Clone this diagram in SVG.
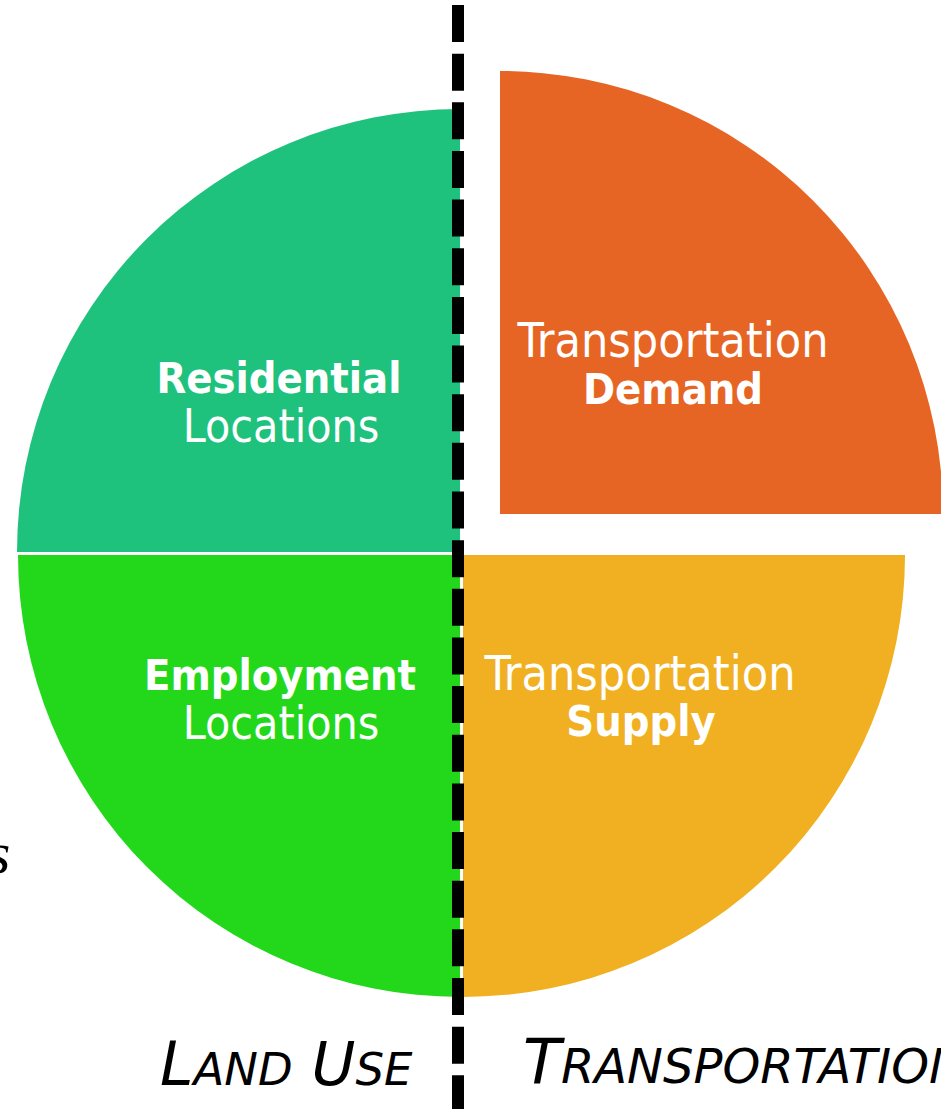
<svg xmlns="http://www.w3.org/2000/svg" width="941" height="1109" viewBox="0 0 941 1109">
<style>
.lbl{font-family:"DejaVu Sans Condensed","DejaVu Sans",sans-serif;fill:#ffffff;font-size:46px;text-anchor:middle}
.t{font-size:48px}
.b{font-weight:bold;font-size:43px}
.cap{font-family:"DejaVu Sans",sans-serif;font-style:italic;fill:#000}
</style>
<rect width="941" height="1109" fill="#ffffff"/>
<text x="-13" y="873" font-family="Liberation Serif" font-style="italic" font-size="60" fill="#000">s</text>
<g id="residential">
<path d="M460,552 L17,552 A443,443 0 0 1 460,109 Z" fill="#1FC27D"/>
<text class="lbl b" x="279" y="393">Residential</text>
<text class="lbl" x="281" y="442">Locations</text>
</g>
<g id="employment">
<path d="M460,555 L460,997 A442,442 0 0 1 18,555 Z" fill="#23D81B"/>
<text class="lbl b" x="280" y="690">Employment</text>
<text class="lbl" x="281" y="739">Locations</text>
</g>
<g id="supply">
<path d="M463,555 L905,555 A442,442 0 0 1 463,997 Z" fill="#F0B021"/>
<text class="lbl t" x="640" y="690">Transportation</text>
<text class="lbl b" x="641" y="736">Supply</text>
</g>
<g id="demand">
<path d="M500,514 L500,71 A443,443 0 0 1 943,514 Z" fill="#E66524"/>
<text class="lbl t" x="673" y="357">Transportation</text>
<text class="lbl b" x="673" y="404">Demand</text>
</g>
<g id="connectors">
<line x1="458" y1="5" x2="458" y2="1109" stroke="#000" stroke-width="12" stroke-dasharray="37 11.65"/>
</g>
<g id="landuse">
<text class="cap" x="160" y="1085" font-size="60">L<tspan font-size="45">AND</tspan> U<tspan font-size="45">SE</tspan></text>
</g>
<g id="transportation">
<text class="cap" x="523" y="1083" font-size="62">T<tspan font-size="48">RANSPORTATION</tspan></text>
</g>
</svg>
